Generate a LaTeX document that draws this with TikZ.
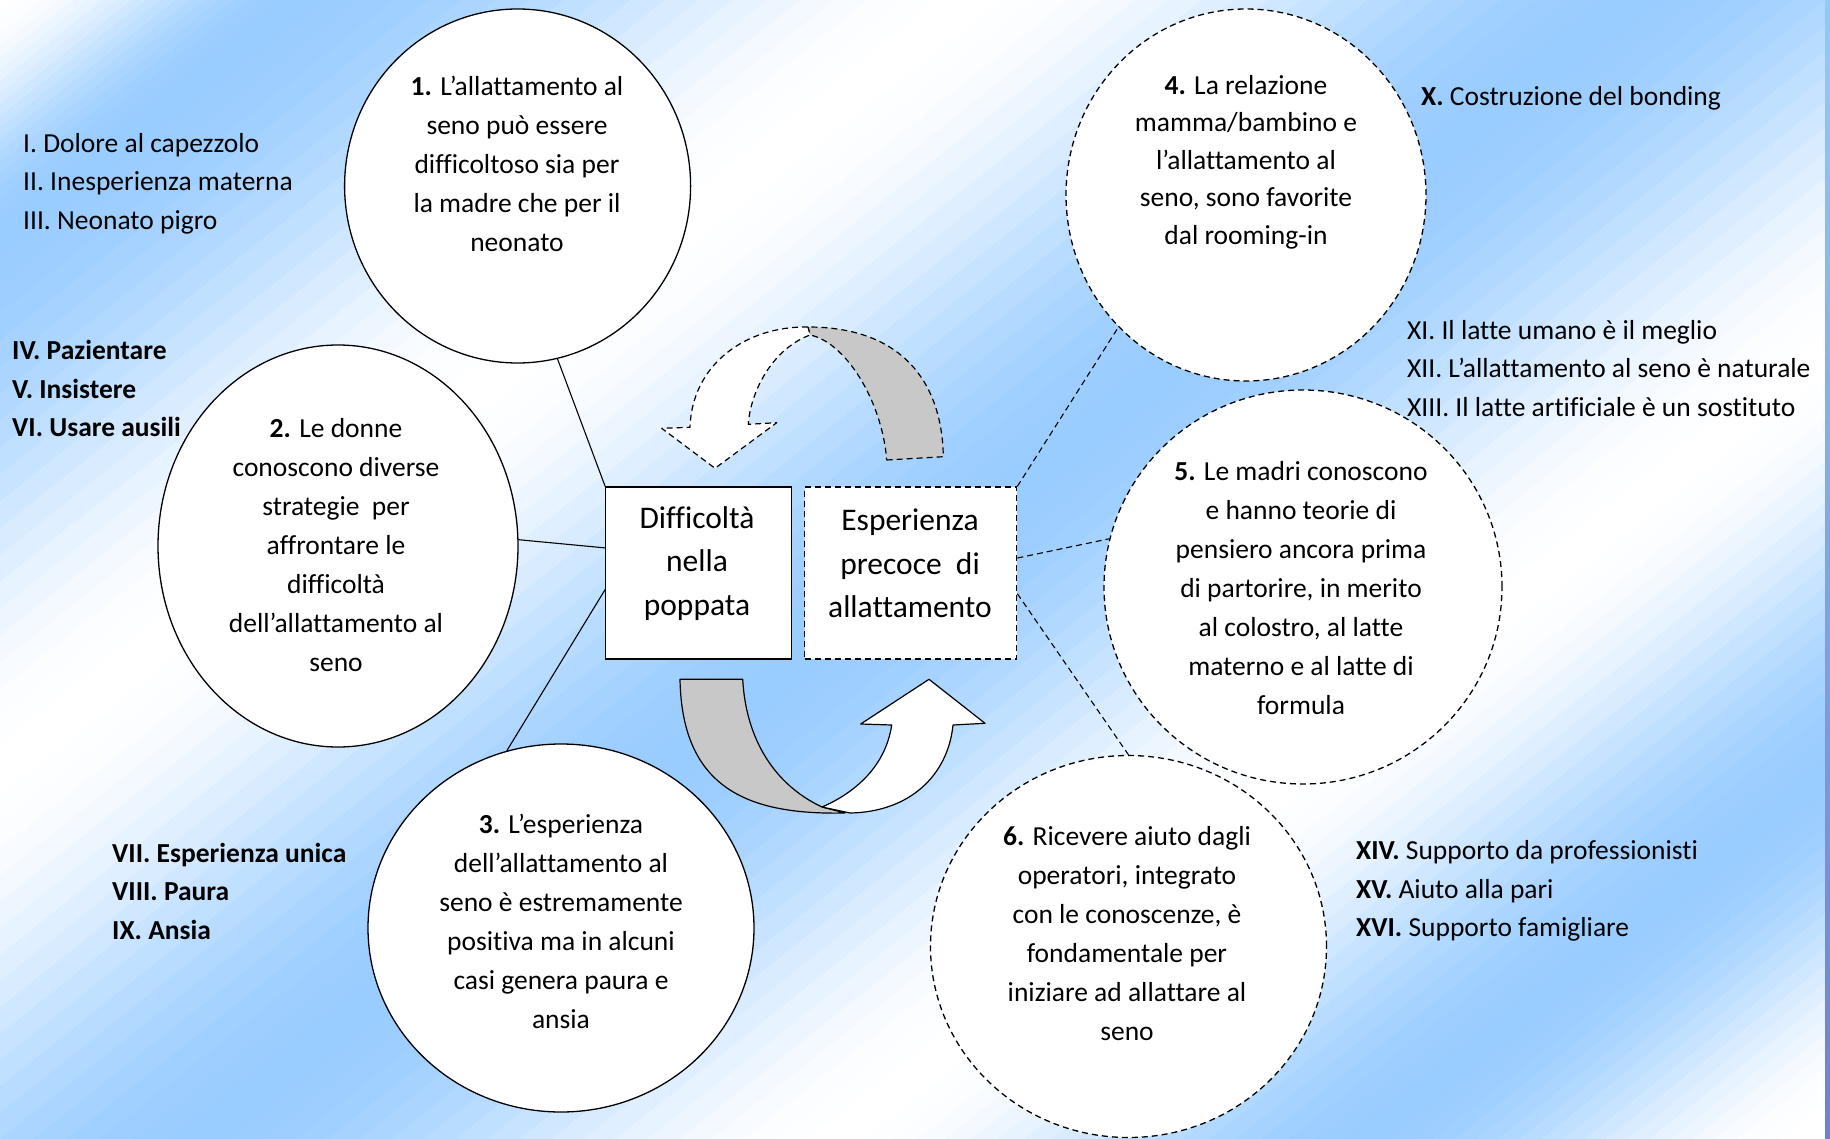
\documentclass[tikz,border=0pt]{standalone}
\usepackage{fontspec}
\setmainfont{Carlito}[Ligatures={TeX,NoCommon}]
\usetikzlibrary{shapes.geometric}

\definecolor{bandblue}{RGB}{153,204,255}
\definecolor{backgray}{RGB}{200,200,200}

\begin{document}
\begin{tikzpicture}[x=1pt,y=-1pt,
    bubble/.style={ellipse, draw, fill=white, line width=1.3pt, inner sep=0pt},
    dbubble/.style={bubble, dash pattern=on 6pt off 4pt},
    bubtext/.style={align=center, inner sep=0pt, font=\fontsize{27.5}{39}\selectfont},
    listtext/.style={align=left, anchor=west, inner sep=0pt, font=\fontsize{27.5}{38.5}\selectfont},
    stage/.style={rectangle, draw, fill=white, line width=1.3pt, minimum height=172pt, inner sep=0pt},
    stagetext/.style={align=center, inner sep=0pt, font=\fontsize{31.5}{43.5}\selectfont},
    link/.style={line width=1.1pt},
    dlink/.style={link, dash pattern=on 6pt off 4pt},
    turn/.style={line width=1.2pt, line join=round}]
  \useasboundingbox (0,0) rectangle (1830,1139);

  % background bands
  \begin{scope}
    \clip (0,0) rectangle (1830,1139);
    \foreach \sa/\sb/\wa/\wb in {-100/0/100/100, 0/182/100/0, 182/603/0/100, 603/1016/100/0,
        1016/1414/0/100, 1414/1743/100/0, 1743/2012/0/100, 2012/2200/100/100}{
      \foreach \k in {0,...,19}{
        \pgfmathsetmacro\pa{\sa+(\sb-\sa)*\k/20}
        \pgfmathsetmacro\pb{\sa+(\sb-\sa)*(\k+1.5)/20}
        \pgfmathsetmacro\w{\wa+(\wb-\wa)*(1-cos(180*(\k+0.5)/20))/2}
        \fill[white!\w!bandblue] ({0.622*\pa+1174.5},{0.783*\pa-933})
          -- ({0.622*\pb+1174.5},{0.783*\pb-933})
          -- ({0.622*\pb-626.4},{0.783*\pb+497.6})
          -- ({0.622*\pa-626.4},{0.783*\pa+497.6}) -- cycle;
      }
    }
  \end{scope}
  \shade[top color={rgb,255:red,150;green,200;blue,250}, bottom color={rgb,255:red,112;green,128;blue,208}]
    (1825,0) rectangle (1830,1139);

  % bubbles
  \node[bubble, minimum width=346pt, minimum height=354pt] (c1) at (517.6,186) {};
  \node[bubble, minimum width=360pt, minimum height=402pt] (c2) at (338,546) {};
  \node[bubble, minimum width=386pt, minimum height=368pt] (c3) at (561,928) {};
  \node[dbubble, minimum width=360pt, minimum height=372pt] (c4) at (1246,195) {};
  \node[dbubble, minimum width=398pt, minimum height=394pt] (c5) at (1303,587) {};
  \node[dbubble, minimum width=396pt, minimum height=382pt] (c6) at (1128.5,946.5) {};

  \node[bubtext] (t1) at (517,163.5) {\textbf{1.} L'allattamento al\\seno può essere\\difficoltoso sia per\\la madre che per il\\neonato};
  \node[bubtext] (t2) at (336,545.5) {\textbf{2.} Le donne\\conoscono diverse\\strategie\ \ per\\affrontare le\\difficoltà\\dell'allattamento al\\seno};
  \node[bubtext] (t3) at (561,921) {\textbf{3.} L'esperienza\\dell'allattamento al\\seno è estremamente\\positiva ma in alcuni\\casi genera paura e\\ansia};
  \node[bubtext, font=\fontsize{27.5}{37.5}\selectfont] (t4) at (1246,162) {\textbf{4.} La relazione\\mamma/bambino e\\l'allattamento al\\seno, sono favorite\\dal rooming-in};
  \node[bubtext] (t5) at (1301,588) {\textbf{5.} Le madri conoscono\\e hanno teorie di\\pensiero ancora prima\\di partorire, in merito\\al colostro, al latte\\materno e al latte di\\formula};
  \node[bubtext] (t6) at (1127,934) {\textbf{6.} Ricevere aiuto dagli\\operatori, integrato\\con le conoscenze, è\\fondamentale per\\iniziare ad allattare al\\seno};

  % central boxes
  \node[stage, minimum width=186pt] (b1) at (698.8,573) {};
  \node[stage, dash pattern=on 6pt off 4pt, minimum width=212pt] (b2) at (910.7,573) {};
  \node[stagetext] (b1t) at (697,563.5) {Difficoltà\\nella\\poppata};
  \node[stagetext] (b2t) at (910,563.5) {Esperienza\\precoce\ \ di\\allattamento};

  % links
  \draw[link] (b1.north west) -- (c1.-77.6);
  \draw[link] (b1.165) -- (c2.2.9);
  \draw[link] (b1.-170) -- (c3.107);
  \draw[dlink] (b2.north east) -- (c4.-134);
  \draw[dlink] (b2.8.6) -- (c5.166);
  \draw[dlink] (b2.-11.7) -- (c6.90);

  % upper turning arrow
  \filldraw[turn, dash pattern=on 6pt off 4pt, fill=backgray] (886.7,460) -- (943.3,456.7)
    .. controls (942,380) and (900,327) .. (808,327) -- (810,335)
    .. controls (845,342) and (882,400) .. (886.7,460) -- cycle;
  \filldraw[turn, dash pattern=on 6pt off 4pt, fill=white] (808,327)
    .. controls (745,326) and (692,365) .. (690,427.3) -- (661.7,428.3) -- (715,468.3)
    -- (776.7,422.7) -- (748.3,424.3) .. controls (750,395) and (770,350) .. (810,335) -- cycle;

  % lower turning arrow
  \filldraw[turn, fill=backgray] (680,679.3) -- (742.7,679.3)
    .. controls (746,740) and (775,785) .. (822,807) -- (845,813)
    .. controls (750,815) and (682,790) .. (680,679.3) -- cycle;
  \filldraw[turn, fill=white] (822,807) .. controls (850,795) and (885,770) .. (891.7,725)
    -- (860.7,724) -- (929,679.3) -- (985,723.3) -- (953,725)
    .. controls (948,775) and (910,812) .. (850,813) -- cycle;

  % side lists
  \node[listtext] (l1) at (23,183.5) {I. Dolore al capezzolo\\II. Inesperienza materna\\III. Neonato pigro};
  \node[listtext, font=\fontsize{27.5}{38.5}\selectfont\bfseries] (l2) at (12,388.5) {IV. Pazientare\\V. Insistere\\VI. Usare ausili};
  \node[listtext, font=\fontsize{27.5}{38.5}\selectfont\bfseries] (l3) at (112,891) {VII. Esperienza unica\\VIII. Paura\\IX. Ansia};
  \node[listtext] (r1) at (1421,98) {\textbf{X.} Costruzione del bonding};
  \node[listtext] (r2) at (1407,368.5) {XI. Il latte umano è il meglio\\XII. L'allattamento al seno è naturale\\XIII. Il latte artificiale è un sostituto};
  \node[listtext] (r3) at (1356,891) {\textbf{XIV.} Supporto da professionisti\\\textbf{XV.} Aiuto alla pari\\\textbf{XVI.} Supporto famigliare};
\end{tikzpicture}
\end{document}
